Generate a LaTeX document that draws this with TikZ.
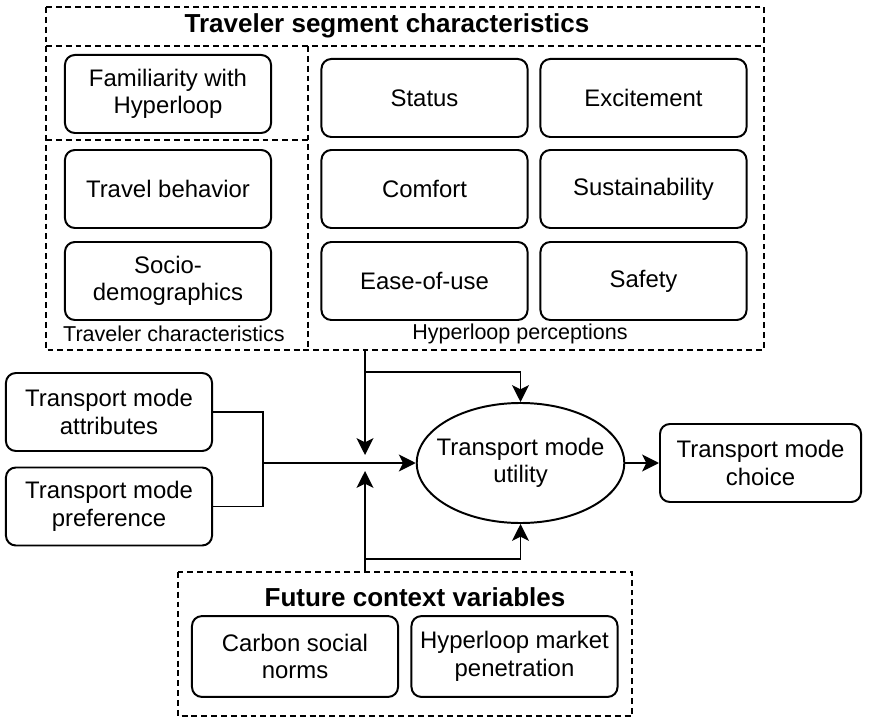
\documentclass[tikz,border=0pt]{standalone}
\usepackage{fontspec}
\setmainfont{Liberation Sans}
\usetikzlibrary{arrows.meta,shapes.geometric}

\tikzset{
  factor/.style={draw, line width=1.4pt, rounded corners=7pt, minimum width=5.15cm,
    minimum height=1.95cm, align=center, inner sep=2pt,
    font=\fontsize{17}{19.6}\selectfont},
  grouptitle/.style={font=\bfseries\fontsize{18.5}{22}\selectfont},
  grouplabel/.style={font=\fontsize{15.3}{18}\selectfont},
  group/.style={line width=1.3pt, dash pattern=on 4.2pt off 2.8pt},
  link/.style={line width=1.4pt},
  tip/.style={-{Stealth[length=12pt,width=12pt,inset=3pt]}},
}

\begin{document}
\begin{tikzpicture}[x=0.025cm, y=-0.025cm]
        \useasboundingbox (0,0) rectangle (872,720);

        % traveler segment block
        \draw[group] (46,7) rectangle (764,350);
        \draw[group] (46,46) -- (764,46);
        \draw[group] (308,46) -- (308,350);
        \draw[group] (46,140) -- (308,140);
        \node[grouptitle] (segtitle) at (387,26) {Traveler segment characteristics};
        \node[grouplabel] (travlabel) at (174,334) {Traveler characteristics};
        \node[grouplabel] (perclabel) at (520,334) {Hyperloop perceptions};

        \node[factor] (fam) at (168,94) {Familiarity with\\Hyperloop};
        \node[factor] (travel) at (168,189) {Travel behavior};
        \node[factor] (socio) at (168,281) {Socio-\\demographics};

        \node[factor] (status) at (424.5,98) {Status};
        \node[factor] (excite) at (643.5,98) {Excitement};
        \node[factor] (comfort) at (424.5,189) {Comfort};
        \node[factor] (sustain) at (643.5,189) {Sustainability};
        \node[factor] (ease) at (424.5,281) {Ease-of-use};
        \node[factor] (safety) at (643.5,281) {Safety};

        % mode inputs and outcome
        \node[factor] (attr) at (109,412) {Transport mode\\attributes};
        \node[factor] (pref) at (109,506.5) {Transport mode\\preference};
        \node[draw, ellipse, line width=1.4pt, inner xsep=-7.5pt, inner ysep=0pt,
              minimum width=5.125cm, minimum height=3cm,
              align=center, font=\fontsize{17}{19.6}\selectfont] (util) at (520.5,463) {Transport mode\\utility};
        \node[factor, minimum width=5.025cm] (choice) at (760.5,463) {Transport mode\\choice};

        % future context block
        \draw[group] (178,572) rectangle (632,716);
        \node[grouptitle] (ctxtitle) at (415,597) {Future context variables};
        \node[factor, minimum height=2.02cm] (carbon) at (295,656.5) {Carbon social\\norms};
        \node[factor, minimum height=2.02cm] (market) at (514.5,656.5) {Hyperloop market\\penetration};

        % connectors
        \coordinate (join) at (263,463);
        \coordinate (segout) at (365,350);
        \coordinate (segsplit) at (365,372);
        \coordinate (segend) at (365,455);
        \coordinate (ctxout) at (365,572);
        \coordinate (ctxsplit) at (365,559);
        \coordinate (ctxend) at (365,471);

        \draw[link] (attr.east) -| (join);
        \draw[link] (pref.east) -| (join);
        \draw[link, tip] (join) -- (util.west);
        \draw[link, tip] (segout) -- (segend);
        \draw[link, tip] (segsplit) -| (util.north);
        \draw[link, tip] (ctxout) -- (ctxend);
        \draw[link, tip] (ctxsplit) -| (util.south);
        \draw[link, tip] (util.east) -- (choice.west);
    \end{tikzpicture}
\end{document}
